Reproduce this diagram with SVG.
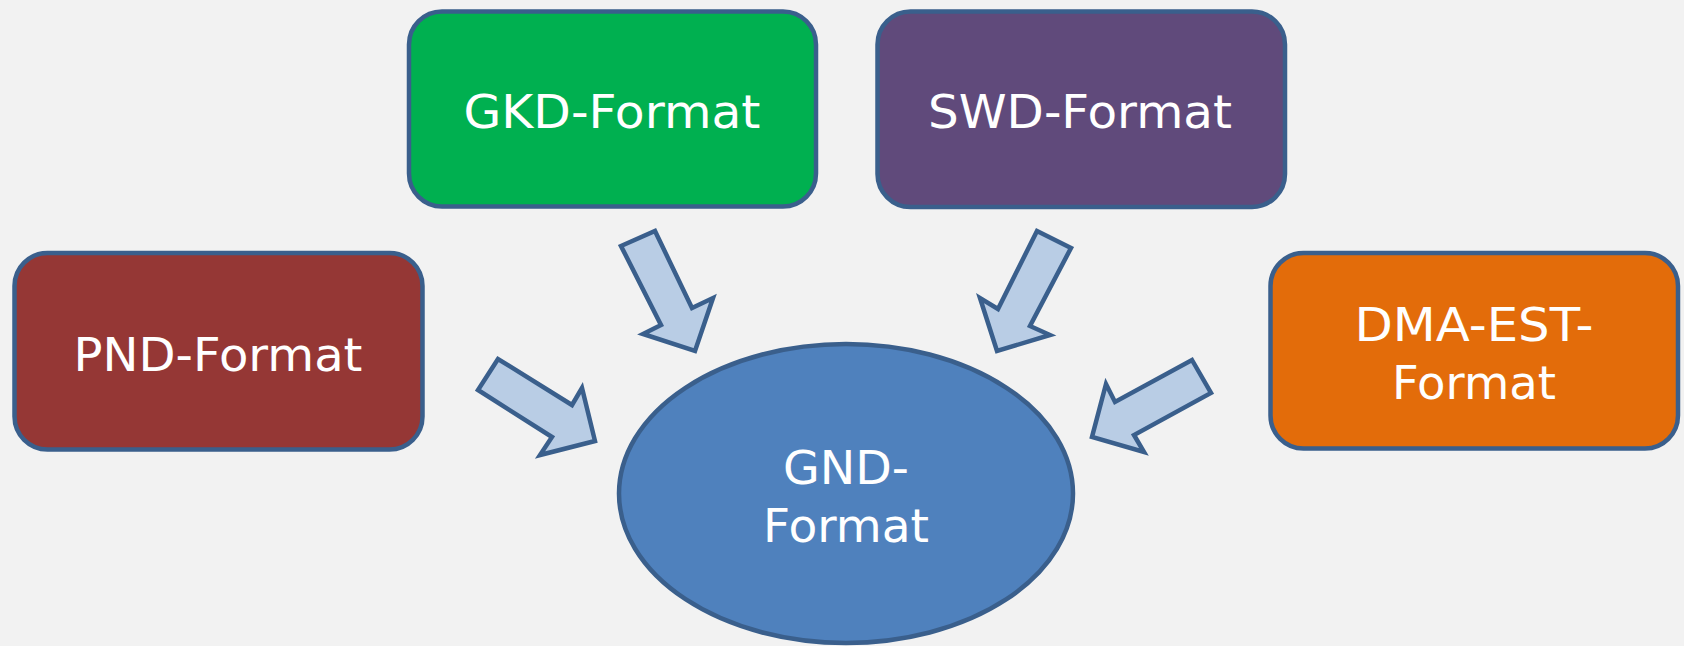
<svg xmlns="http://www.w3.org/2000/svg" width="1684" height="646" viewBox="0 0 1684 646">
<style>
.box{stroke:#3A5F8C;stroke-width:4.5}
.arr{fill:#B9CDE5;stroke:#3A5F8C;stroke-width:4.5;stroke-linejoin:miter}
.lbl{font-family:"DejaVu Sans","Liberation Sans",sans-serif;font-size:46px;fill:#FFFFFF;text-anchor:middle}
</style>
<rect x="0" y="0" width="1684" height="646" fill="#F2F2F2"/>
<g id="connectors">
<polygon class="arr" points="621,246 655,231 692,308 713,298 695,351 643,334 661,325"/>
<polygon class="arr" points="1037,231 1071,248 1030,326 1050,335 997,351 980,298 998,309"/>
<polygon class="arr" points="498,359 478,390 552,437 540,455 595,441 582,388 572,405"/>
<polygon class="arr" points="1192,360 1211,393 1134,435 1144,452 1092,437 1106,384 1115,402"/>
</g>
<g id="gkd">
<rect class="box" x="409" y="11.5" width="407" height="195" rx="33" fill="#00B050"/>
<text class="lbl" x="612" y="128" textLength="297" lengthAdjust="spacingAndGlyphs">GKD-Format</text>
</g>
<g id="swd">
<rect class="box" x="877.5" y="11.5" width="407.5" height="195.5" rx="33" fill="#604A7B"/>
<text class="lbl" x="1080" y="128" textLength="304" lengthAdjust="spacingAndGlyphs">SWD-Format</text>
</g>
<g id="pnd">
<rect class="box" x="14.5" y="253" width="408" height="196.5" rx="33" fill="#953735"/>
<text class="lbl" x="218" y="370.5" textLength="289" lengthAdjust="spacingAndGlyphs">PND-Format</text>
</g>
<g id="dma">
<rect class="box" x="1270.5" y="253" width="407.5" height="195.5" rx="33" fill="#E36C0A"/>
<text class="lbl" x="1474" y="341" textLength="239" lengthAdjust="spacingAndGlyphs">DMA-EST-</text>
<text class="lbl" x="1474" y="399" textLength="164" lengthAdjust="spacingAndGlyphs">Format</text>
</g>
<g id="gnd">
<ellipse class="box" cx="846" cy="493.5" rx="227" ry="149.5" fill="#4F81BD"/>
<text class="lbl" x="846" y="484" textLength="126" lengthAdjust="spacingAndGlyphs">GND-</text>
<text class="lbl" x="846" y="541.5" textLength="166" lengthAdjust="spacingAndGlyphs">Format</text>
</g>
</svg>
